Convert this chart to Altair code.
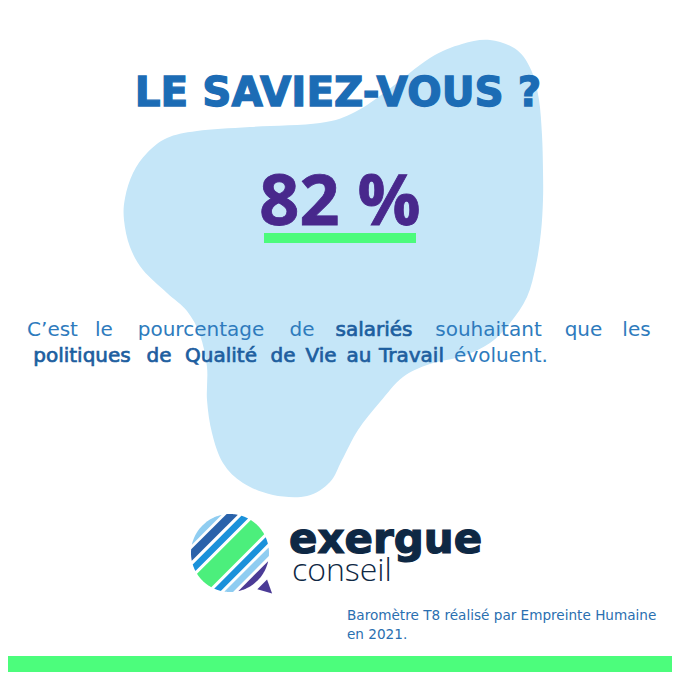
import math
import altair as alt
import pandas as pd

# ---------------- content ----------------
TITLE = "LE SAVIEZ-VOUS ?"
STAT_VALUE = 82
STAT_LABEL = f"{STAT_VALUE} %"
LINE1_WORDS = ["C’est", "le", "pourcentage", "de", "salariés", "souhaitant", "que", "les"]
LINE1_BOLD = [False, False, False, False, True, False, False, False]
LINE2_WORDS = ["politiques", "de", "Qualité", "de", "Vie", "au", "Travail", "évoluent."]
LINE2_BOLD = [True, True, True, True, True, True, True, False]
BRAND = "exergue"
BRAND_SUB = "conseil"
SOURCE_LINES = ["Baromètre T8 réalisé par Empreinte Humaine", "en 2021."]

# ---------------- layout (pixel space of the 680x680 card) ----------------
LINE1_SPANS = [(28, 77), (94, 114), (130, 272), (290, 314), (333, 415), (431, 546), (564, 603), (620, 653)]
LINE2_SPANS = [(28, 136), (146, 172), (181, 261), (270, 296), (304, 338), (346, 372), (379, 444), (451, 551)]
BLOB_OUTLINE = [
    (490, 40), (517, 50), (532, 72), (539, 100), (542, 135), (543, 170), (543, 200),
    (541, 232), (536, 265), (527, 297), (510, 323), (490, 343), (463, 356), (430, 364),
    (403, 377), (380, 402), (358, 430), (342, 460), (330, 482), (307, 496), (273, 495),
    (243, 483), (223, 463), (212, 433), (207, 400), (207, 367), (200, 335), (187, 311),
    (167, 293), (143, 270), (130, 247), (124, 220), (125, 198), (133, 173), (147, 153),
    (167, 138), (197, 131), (250, 127), (320, 123), (355, 112), (388, 90), (430, 58), (462, 44),
]
LOGO_BANDS = [  # (u from, u to, colour) across the circle diagonal
    (-1.0, -0.84, "#8fcdf1"),
    (-0.77, -0.55, "#2a62aa"),
    (-0.47, -0.30, "#1b91da"),
    (-0.22, 0.28, "#4cef7c"),
    (0.36, 0.52, "#1b91da"),
    (0.60, 0.76, "#8fcdf1"),
    (0.84, 1.0, "#4b3b96"),
]

# page has an 8px margin: chart pixel p sits at screen 8 + p
X = alt.Scale(domain=[8, 672], nice=False, zero=False)
Y = alt.Scale(domain=[672, 8], nice=False, zero=False)


def enc(ch):
    return ch.encode(x=alt.X("x:Q", scale=X, axis=None), y=alt.Y("y:Q", scale=Y, axis=None))


def text_layer(texts, xs, ys, font, size, weight, color, align="left", stroke=0.0):
    df = pd.DataFrame({"t": texts, "x": xs, "y": ys})
    kw = dict(font=font, fontSize=size, fontWeight=weight, color=color, align=align,
              baseline="alphabetic")
    if stroke > 0:
        kw.update(stroke=color, strokeWidth=stroke)
    return enc(alt.Chart(df).mark_text(**kw)).encode(text="t:N")


def fmt(v):
    return f"{v:.4f}".rstrip("0").rstrip(".")


def smooth_closed_path(pts):
    n = len(pts)
    d = [f"M{fmt(pts[0][0])},{fmt(pts[0][1])}"]
    for i in range(n):
        p0, p1, p2, p3 = pts[i - 1], pts[i], pts[(i + 1) % n], pts[(i + 2) % n]
        c1 = (p1[0] + (p2[0] - p0[0]) / 6, p1[1] + (p2[1] - p0[1]) / 6)
        c2 = (p2[0] - (p3[0] - p1[0]) / 6, p2[1] - (p3[1] - p1[1]) / 6)
        d.append(f"C{fmt(c1[0])},{fmt(c1[1])} {fmt(c2[0])},{fmt(c2[1])} {fmt(p2[0])},{fmt(p2[1])}")
    d.append("Z")
    return "".join(d)


def poly_path(pts):
    return "M" + "L".join(f"{fmt(x)},{fmt(y)}" for x, y in pts) + "Z"


def shape_layer(path, cx, cy, side, color):
    df = pd.DataFrame({"x": [cx], "y": [cy]})
    return enc(alt.Chart(df).mark_point(
        shape=path, size=side * side, filled=True, color=color, opacity=1, strokeWidth=0
    ))


# blob (normalised into a unit square)
BCX, BCY, BH = 333, 268, 230
blob_unit = [((x - BCX) / BH, (y - BCY) / BH) for x, y in BLOB_OUTLINE]
blob = shape_layer(smooth_closed_path(blob_unit), BCX, BCY, 2 * BH, "#c5e6f8")

# logo stripes
LCX, LCY, LR = 230, 553, 39
logo_layers = []
s2 = math.sqrt(2)
for u1, u2, col in LOGO_BANDS:
    pts = []
    n = 24
    for i in range(n + 1):
        u = u1 + (u2 - u1) * i / n
        v = math.sqrt(max(0.0, 1 - u * u))
        pts.append(((u + v) / s2, (u - v) / s2))
    for i in range(n, -1, -1):
        u = u1 + (u2 - u1) * i / n
        v = -math.sqrt(max(0.0, 1 - u * u))
        pts.append(((u + v) / s2, (u - v) / s2))
    logo_layers.append(shape_layer(poly_path(pts), LCX, LCY, 2 * LR, col))
tail = [(0.70, 0.93), (1.08, 1.04), (0.95, 0.68)]
logo_layers.append(shape_layer(poly_path(tail), LCX, LCY, 2 * LR, "#4b3b96"))

# rectangles: underline and footer band (footer band runs to the page edge)
rects = pd.DataFrame({
    "x": [264, 8], "x2": [416, 672], "y": [233, 656], "y2": [243, 672],
    "c": ["#4cfb7c", "#4cfd7c"],
})
rect_layer = alt.Chart(rects).mark_rect().encode(
    x=alt.X("x:Q", scale=X, axis=None), x2="x2:Q",
    y=alt.Y("y:Q", scale=Y, axis=None), y2="y2:Q",
    color=alt.Color("c:N", scale=None),
)

title = text_layer([TITLE], [338], [106], "DejaVu Sans", 40.5, "bold", "#1c6cb5", "center", stroke=1.3)
stat = text_layer([STAT_LABEL], [340], [225], "Open Sans", 70, "bold", "#48288c", "center", stroke=0.8)

BODY_REG = "#2e7bbd"
BODY_BOLD = "#1d5e9f"
BODY_FONT, BODY_SIZE = "DejaVu Sans", 20


def word_layers(words, bolds, spans, baseline):
    reg = [(w, (a + b) / 2) for w, bo, (a, b) in zip(words, bolds, spans) if not bo]
    bld = [(w, (a + b) / 2) for w, bo, (a, b) in zip(words, bolds, spans) if bo]
    out = []
    if reg:
        out.append(text_layer([w for w, _ in reg], [c for _, c in reg], [baseline] * len(reg),
                              BODY_FONT, BODY_SIZE, "normal", BODY_REG, "center"))
    if bld:
        out.append(text_layer([w for w, _ in bld], [c for _, c in bld], [baseline] * len(bld),
                              BODY_FONT, BODY_SIZE, "normal", BODY_BOLD, "center", stroke=0.7))
    return out


body = word_layers(LINE1_WORDS, LINE1_BOLD, LINE1_SPANS, 336) + \
    word_layers(LINE2_WORDS, LINE2_BOLD, LINE2_SPANS, 362)

brand = text_layer([BRAND], [289], [553], "DejaVu Sans", 42, "bold", "#0e2844", stroke=1.2)
brand_sub = text_layer([BRAND_SUB], [292], [581], "Open Sans", 32, 300, "#0e2844")
source = text_layer(SOURCE_LINES, [347, 347], [620, 639], "DejaVu Sans", 13.6, "normal", "#2a6fb0")

chart = alt.layer(
    blob, rect_layer, *logo_layers, title, stat, *body, brand, brand_sub, source
).properties(
    width=664, height=664, padding=0, background="#ffffff",
    autosize=alt.AutoSizeParams(type="none"),
).configure_view(stroke=None)

chart.save("out.html", embed_options={"renderer": "svg", "actions": False})
